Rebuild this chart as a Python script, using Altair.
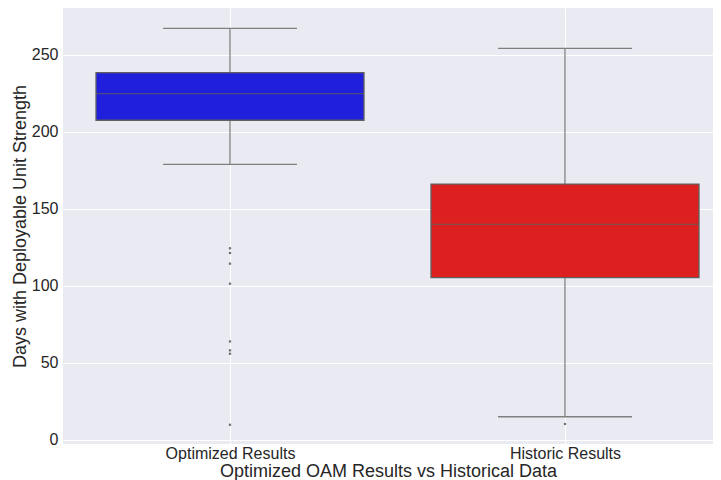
import altair as alt
import pandas as pd

categories = ["Optimized Results", "Historic Results"]
positions = [0, 1]
whisker_low = [179, 15.1]
q1 = [207.6, 105.4]
median = [224.9, 140.0]
q3 = [238.5, 166.2]
whisker_high = [267.3, 254.3]
colors = ["#2020DC", "#DC2020"]

outlier_cat = ["Optimized Results"] * 8 + ["Historic Results"]
outlier_val = [124.5, 121.4, 114.5, 101.5, 64.0, 58.2, 56.0, 9.9, 10.4]

box_w = 0.4
cap_w = 0.2

boxes = pd.DataFrame({
    "cat": categories, "pos": positions,
    "lo": whisker_low, "q1": q1, "med": median, "q3": q3, "hi": whisker_high,
})
boxes["bx0"] = boxes["pos"] - box_w
boxes["bx1"] = boxes["pos"] + box_w
boxes["cx0"] = boxes["pos"] - cap_w
boxes["cx1"] = boxes["pos"] + cap_w

pos_map = dict(zip(categories, positions))
outs = pd.DataFrame({"cat": outlier_cat, "val": outlier_val})
outs["pos"] = outs["cat"].map(pos_map)

FONT = "Liberation Sans"
xdom = [-0.4985, 1.4418]
ydom = [-2.6, 280.5]

xscale = alt.Scale(domain=xdom, nice=False, zero=False)
yscale = alt.Scale(domain=ydom, nice=False, zero=False)

x_axis = alt.Axis(
    values=positions, labelExpr="datum.value == 0 ? 'Optimized Results' : 'Historic Results'",
    title="Optimized OAM Results vs Historical Data", grid=True, gridColor="white",
    gridWidth=1, domain=False, ticks=False, labelFontSize=16, titleFontSize=18,
    labelFont=FONT, titleFont=FONT, labelColor="#262626", titleColor="#262626",
    labelBaseline="alphabetic", labelPadding=14,
    titleBaseline="alphabetic", titleY=32, titleFontWeight="normal",
)
y_axis = alt.Axis(
    values=[0, 50, 100, 150, 200, 250], title="Days with Deployable Unit Strength",
    grid=True, gridColor="white", gridWidth=1, domain=False, ticks=False,
    labelFontSize=16, titleFontSize=18, labelFont=FONT, titleFont=FONT,
    labelColor="#262626", titleColor="#262626", labelPadding=5, titlePadding=2,
    titleFontWeight="normal",
)

base = alt.Chart(boxes)

whisk_low = base.mark_rule(color="#7f7f7f", strokeWidth=1.3).encode(
    x=alt.X("pos:Q", scale=xscale, axis=x_axis),
    y=alt.Y("lo:Q", scale=yscale, axis=y_axis),
    y2="q1:Q",
)
whisk_high = base.mark_rule(color="#7f7f7f", strokeWidth=1.3).encode(
    x=alt.X("pos:Q", scale=xscale), y=alt.Y("q3:Q", scale=yscale), y2="hi:Q"
)
cap_low = base.mark_rule(color="#7f7f7f", strokeWidth=1.3).encode(
    x=alt.X("cx0:Q", scale=xscale), x2="cx1:Q", y=alt.Y("lo:Q", scale=yscale)
)
cap_high = base.mark_rule(color="#7f7f7f", strokeWidth=1.3).encode(
    x=alt.X("cx0:Q", scale=xscale), x2="cx1:Q", y=alt.Y("hi:Q", scale=yscale)
)
box = base.mark_rect(stroke="#5f5f5f", strokeWidth=1.3).encode(
    x=alt.X("bx0:Q", scale=xscale), x2="bx1:Q",
    y=alt.Y("q1:Q", scale=yscale), y2="q3:Q",
    fill=alt.Fill("cat:N", scale=alt.Scale(domain=categories, range=colors), legend=None),
)
med = base.mark_rule(color="#5f5f5f", strokeWidth=1.3, opacity=0.7).encode(
    x=alt.X("bx0:Q", scale=xscale), x2="bx1:Q", y=alt.Y("med:Q", scale=yscale)
)
pts = alt.Chart(outs).mark_point(shape="square", filled=True, size=5, color="#5f5f5f", opacity=0.9).encode(
    x=alt.X("pos:Q", scale=xscale), y=alt.Y("val:Q", scale=yscale)
)

chart = alt.layer(whisk_low, whisk_high, cap_low, cap_high, box, med, pts).properties(
    width=650, height=436,
    autosize=alt.AutoSizeParams(type="none"),
    padding={"left": 55, "top": 0, "right": 0, "bottom": 36},
).configure_view(fill="#EAEAF2", stroke=None)

chart.save("out.html", embed_options={"renderer": "svg", "actions": False})
